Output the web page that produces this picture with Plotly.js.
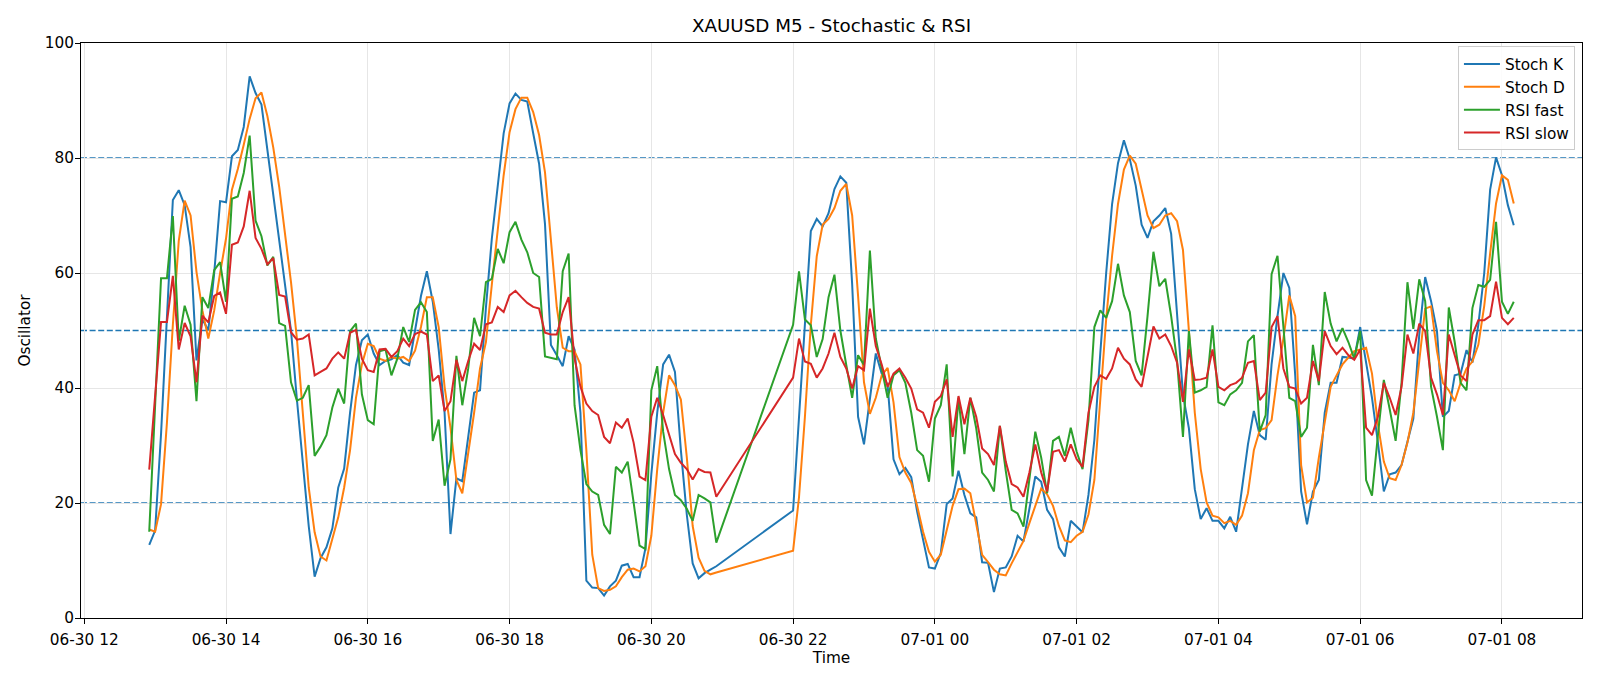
<!DOCTYPE html>
<html>
<head>
<meta charset="utf-8">
<script src="https://cdn.plot.ly/plotly-3.0.1.min.js"></script>
<style>
  html, body { margin: 0; padding: 0; background: #ffffff; }
  #chart { width: 1600px; height: 686px; }
</style>
</head>
<body>
<div id="chart"></div>
<script>
// ---- time axis (M5 bars, market break 21:00-22:00) ----
const times = [
  "2025-06-30 12:55",
  "2025-06-30 13:00","2025-06-30 13:05","2025-06-30 13:10","2025-06-30 13:15","2025-06-30 13:20","2025-06-30 13:25","2025-06-30 13:30","2025-06-30 13:35","2025-06-30 13:40","2025-06-30 13:45","2025-06-30 13:50","2025-06-30 13:55",
  "2025-06-30 14:00","2025-06-30 14:05","2025-06-30 14:10","2025-06-30 14:15","2025-06-30 14:20","2025-06-30 14:25","2025-06-30 14:30","2025-06-30 14:35","2025-06-30 14:40","2025-06-30 14:45","2025-06-30 14:50","2025-06-30 14:55",
  "2025-06-30 15:00","2025-06-30 15:05","2025-06-30 15:10","2025-06-30 15:15","2025-06-30 15:20","2025-06-30 15:25","2025-06-30 15:30","2025-06-30 15:35","2025-06-30 15:40","2025-06-30 15:45","2025-06-30 15:50","2025-06-30 15:55",
  "2025-06-30 16:00","2025-06-30 16:05","2025-06-30 16:10","2025-06-30 16:15","2025-06-30 16:20","2025-06-30 16:25","2025-06-30 16:30","2025-06-30 16:35","2025-06-30 16:40","2025-06-30 16:45","2025-06-30 16:50","2025-06-30 16:55",
  "2025-06-30 17:00","2025-06-30 17:05","2025-06-30 17:10","2025-06-30 17:15","2025-06-30 17:20","2025-06-30 17:25","2025-06-30 17:30","2025-06-30 17:35","2025-06-30 17:40","2025-06-30 17:45","2025-06-30 17:50","2025-06-30 17:55",
  "2025-06-30 18:00","2025-06-30 18:05","2025-06-30 18:10","2025-06-30 18:15","2025-06-30 18:20","2025-06-30 18:25","2025-06-30 18:30","2025-06-30 18:35","2025-06-30 18:40","2025-06-30 18:45","2025-06-30 18:50","2025-06-30 18:55",
  "2025-06-30 19:00","2025-06-30 19:05","2025-06-30 19:10","2025-06-30 19:15","2025-06-30 19:20","2025-06-30 19:25","2025-06-30 19:30","2025-06-30 19:35","2025-06-30 19:40","2025-06-30 19:45","2025-06-30 19:50","2025-06-30 19:55",
  "2025-06-30 20:00","2025-06-30 20:05","2025-06-30 20:10","2025-06-30 20:15","2025-06-30 20:20","2025-06-30 20:25","2025-06-30 20:30","2025-06-30 20:35","2025-06-30 20:40","2025-06-30 20:45","2025-06-30 20:50","2025-06-30 20:55",
  "2025-06-30 22:00","2025-06-30 22:05","2025-06-30 22:10","2025-06-30 22:15","2025-06-30 22:20","2025-06-30 22:25","2025-06-30 22:30","2025-06-30 22:35","2025-06-30 22:40","2025-06-30 22:45","2025-06-30 22:50","2025-06-30 22:55",
  "2025-06-30 23:00","2025-06-30 23:05","2025-06-30 23:10","2025-06-30 23:15","2025-06-30 23:20","2025-06-30 23:25","2025-06-30 23:30","2025-06-30 23:35","2025-06-30 23:40","2025-06-30 23:45","2025-06-30 23:50","2025-06-30 23:55",
  "2025-07-01 00:00","2025-07-01 00:05","2025-07-01 00:10","2025-07-01 00:15","2025-07-01 00:20","2025-07-01 00:25","2025-07-01 00:30","2025-07-01 00:35","2025-07-01 00:40","2025-07-01 00:45","2025-07-01 00:50","2025-07-01 00:55",
  "2025-07-01 01:00","2025-07-01 01:05","2025-07-01 01:10","2025-07-01 01:15","2025-07-01 01:20","2025-07-01 01:25","2025-07-01 01:30","2025-07-01 01:35","2025-07-01 01:40","2025-07-01 01:45","2025-07-01 01:50","2025-07-01 01:55",
  "2025-07-01 02:00","2025-07-01 02:05","2025-07-01 02:10","2025-07-01 02:15","2025-07-01 02:20","2025-07-01 02:25","2025-07-01 02:30","2025-07-01 02:35","2025-07-01 02:40","2025-07-01 02:45","2025-07-01 02:50","2025-07-01 02:55",
  "2025-07-01 03:00","2025-07-01 03:05","2025-07-01 03:10","2025-07-01 03:15","2025-07-01 03:20","2025-07-01 03:25","2025-07-01 03:30","2025-07-01 03:35","2025-07-01 03:40","2025-07-01 03:45","2025-07-01 03:50","2025-07-01 03:55",
  "2025-07-01 04:00","2025-07-01 04:05","2025-07-01 04:10","2025-07-01 04:15","2025-07-01 04:20","2025-07-01 04:25","2025-07-01 04:30","2025-07-01 04:35","2025-07-01 04:40","2025-07-01 04:45","2025-07-01 04:50","2025-07-01 04:55",
  "2025-07-01 05:00","2025-07-01 05:05","2025-07-01 05:10","2025-07-01 05:15","2025-07-01 05:20","2025-07-01 05:25","2025-07-01 05:30","2025-07-01 05:35","2025-07-01 05:40","2025-07-01 05:45","2025-07-01 05:50","2025-07-01 05:55",
  "2025-07-01 06:00","2025-07-01 06:05","2025-07-01 06:10","2025-07-01 06:15","2025-07-01 06:20","2025-07-01 06:25","2025-07-01 06:30","2025-07-01 06:35","2025-07-01 06:40","2025-07-01 06:45","2025-07-01 06:50","2025-07-01 06:55",
  "2025-07-01 07:00","2025-07-01 07:05","2025-07-01 07:10","2025-07-01 07:15","2025-07-01 07:20","2025-07-01 07:25","2025-07-01 07:30","2025-07-01 07:35","2025-07-01 07:40","2025-07-01 07:45","2025-07-01 07:50","2025-07-01 07:55",
  "2025-07-01 08:00","2025-07-01 08:05","2025-07-01 08:10"
];

// ---- series values ----
const stochK = [
  12.7,15.2,32,52,72.7,74.4,71.8,64.5,44.8,52,
  50,60,72.5,72.3,80.3,81.4,85.4,94.2,91.3,89.3,
  81.5,73,66,58,50,38,27,16,7.2,10.4,
  12.3,15.6,22.7,26,35.7,44,48.3,49.3,46,44,
  44.7,45,45.7,44.4,44,50,56,60.3,55,46.7,
  35.7,14.6,24.3,23.8,31.8,39.2,39.6,54,66,75.5,
  84.3,89.5,91.2,90.1,89.8,84.3,79,68.5,47.5,45.7,
  43.8,49,46.7,35.7,6.5,5.3,5.2,3.9,5.5,6.5,
  9.1,9.4,7.1,7.1,12.1,25,35.7,44.1,45.8,42.8,
  29.2,18,9.5,6.9,7.8,8.4,9.0,
  18.7,35,51,67.3,69.4,68.1,70.4,74.6,76.8,75.7,
  58,35,30.2,38,46,42.5,40.5,27.6,25,26.1,
  24.5,18.5,13.5,8.8,8.6,11.3,19.8,20.8,25.6,21.4,
  18.2,17.5,9.7,9.6,4.5,8.6,8.8,10.7,14.3,13.3,
  19,24.6,23.7,18.8,17.2,12.3,10.7,16.9,15.9,14.9,
  21.4,31,46,60,72,79.1,83.1,79.8,75.2,68.4,
  66.1,69,70,71.3,66.8,52,38.9,33,22.4,17.2,
  19.1,16.9,16.9,15.6,17.6,15,22.7,30.2,36,31.8,
  31,44.1,52.5,60,57.4,42.2,22,16.3,22,24,
  35.7,40.9,40.9,45.4,45.3,45.1,50.6,44.7,38.3,30.5,
  22,25,25.3,26.6,30.5,34.7,49.3,59.3,55.1,49.9,
  35,36,42.2,42.5,46.6,44.4,51,60,74.5,80.1,
  77,71.8,68.3
];
const stochD = [
  15.4,15.0,19.8,34,51,65.6,72.6,70,60.2,53.5,
  48.6,53.5,60,66,74.5,78.1,82.3,86.8,90.4,91.4,
  87.3,81.8,75,67,58.4,48.6,35.7,22.7,14.9,10.7,
  10,13.6,17.5,22.7,29.2,38.3,44.1,47.7,47.3,45.1,
  44.7,45.4,45.1,45.4,44.7,46.5,50.6,55.8,55.8,50.6,
  40.2,33.1,24,21.7,28.5,35.7,43.4,48,58,68,
  77,84.5,88.5,90.5,90.5,88,84,77.5,66,54,
  47,46.4,46.4,44.1,29.2,11,5.2,4.7,4.9,5.5,
  7.1,8.4,8.6,8.1,9,14.3,25.9,35.7,42.2,40.5,
  38,28,16,10.5,8.2,7.6,7.9,
  11.7,21,35,51,62.9,68.4,69.4,71.3,74.3,75.5,
  70,56,41,35.5,38.3,42.2,43.5,37.5,28,25.3,
  23.5,19.5,15,11.5,9.8,11,15.5,19.5,22.4,22.5,
  21.7,16.2,11,9.7,8.4,7.6,7.4,9.5,11.5,13.4,
  16.5,19.5,22.5,21.5,19.5,16,13.5,13.2,14.3,15,
  18,24,38,52,63,72,78,80.4,79,74.6,
  70,67.8,68.4,70,70.4,69,64,50,35.7,25.9,
  20.1,17.8,17.5,16.5,16.9,16.2,17.8,21.7,29.2,32.7,
  33,34.4,42.2,48.6,56.1,52.5,26.6,20.1,20.9,27.9,
  34.4,40.2,42.2,44.1,45.3,46.4,46.7,47,42.5,33.7,
  27.2,24.3,24,26.6,30.5,35.7,44.7,53.8,54.2,46.4,
  40.9,39.6,37.7,40.9,43.4,44.6,47.5,54.3,63.4,72.1,
  77,76.2,72.1
];
const rsiFast = [
  15,37,59.1,59.1,69.9,48.2,54.3,51,37.7,55.8,
  53.9,60.5,61.9,55,72.9,73.3,77.4,83.9,69.1,66.4,
  61.3,62.8,51.3,50.8,41,37.8,38.3,40.5,28.2,29.8,
  31.8,36.6,39.9,37.3,49.9,51.2,38.9,34.4,33.7,46.4,
  46.7,42.2,45.1,50.6,48,53.6,54.9,53.2,30.8,34.5,
  23,27.6,45.6,37,43.4,52.2,49,58.4,59,64.2,
  61.7,67.1,68.9,65.8,63.6,60,59.3,45.5,45.2,45,
  60.3,63.4,37,29.2,23.3,22,21.4,16.2,14.6,26.3,
  25.3,27.2,20.1,12.6,12,39.6,43.8,32.4,25.9,21.4,
  20.5,19,16.9,21.4,20.8,20.1,13.1,
  51,60.3,51.9,50.9,45.4,48.5,55.8,59.7,50,44,
  38.3,45.7,44,63.9,48.6,43.4,38.3,42.2,43.1,40.9,
  35.7,29.2,28.2,23.7,34.7,37,44.1,24.6,38.3,28.5,
  38.3,33,25.3,24,22,33.4,25.6,18.8,18.2,15.9,
  24.3,32.4,27.9,21.7,30.8,31.5,28.2,33.1,28.9,25.9,
  34.4,50.6,53.5,52.2,55.1,61.6,56.1,53.2,44.7,42.2,
  52.5,63.7,57.7,59,52.5,44.7,31.5,49.9,39.2,39.6,
  40.2,50.9,37.5,37,38.9,39.6,40.9,48.1,49.2,32.4,
  35.3,59.8,63,50.6,38.3,37.7,31.5,33.1,47.5,40.5,
  56.7,51.2,48.1,50.4,48,45.1,49.9,24,21.3,31.8,
  41.4,36.3,30.8,40.9,58.4,50.3,58.9,55.1,40.2,35,
  29.2,54,48,40.9,39.6,53.9,57.9,57.6,58.8,68.9,
  55,52.9,55
];
const rsiSlow = [
  25.8,39,51.5,51.5,59.5,46.7,51.3,49,41,52.6,
  51.4,56,56.6,52.9,64.9,65.3,68.1,74.3,66.1,64.2,
  61.5,62.6,56.2,55.9,49.7,48.4,48.6,49.3,42.2,42.8,
  43.4,45.1,46.2,45.1,49.6,50.1,45.1,43.1,42.8,46.7,
  46.8,45.4,46.4,48.6,47.3,49.4,49.8,49.3,41.2,42.2,
  36,37.7,44.9,41.2,44.7,47.7,46.6,51.1,51.4,54.1,
  53.2,56.1,56.9,55.8,54.8,54.1,53.8,49.6,49.3,49.3,
  53.2,55.8,45.1,40.2,37.3,36,35.3,31.5,30.4,34,
  33.1,34.7,30.5,24.6,24,35,38.3,35.3,31.8,28.5,
  27,25.9,24.1,25.9,25.4,25.3,21.1,
  41.8,48.6,44.6,44.2,41.8,43.4,46,49.6,45.4,43.4,
  39.9,43.8,43.1,53.8,47.3,44.1,40.2,42.5,43.4,41.8,
  39.9,36.3,35.7,33.1,37.6,38.6,41.5,31.5,38.6,33.7,
  38.3,35,29.5,28.5,26.6,33.4,27.2,23.3,22.7,21.1,
  25.3,30.2,25.3,22,28.9,29.2,27.2,30.2,27.6,26.3,
  35.7,40.2,42.2,41.6,43.4,47,45.1,44.1,41.5,40.2,
  45.4,50.7,48.6,49.3,47.3,44.4,37.6,46.7,41.4,41.5,
  41.8,46.7,40.2,39.6,40.5,40.9,41.8,44.4,44.7,37.9,
  39.2,50.6,52.5,43.4,40.2,39.9,37.3,38.3,44.7,41.2,
  49.9,47.3,45.9,47,45.7,44.9,46.7,33.1,31.8,35,
  40.9,38.3,35.3,40.2,49.3,46,51.2,49.9,41.8,38.9,
  35.3,49.3,45.7,42.2,41.2,49.3,51.8,51.8,52.5,58.5,
  52.2,51.1,52.2
];

const seriesNames = ["Stoch K", "Stoch D", "RSI fast", "RSI slow"];
const seriesColors = ["#1f77b4", "#ff7f0e", "#2ca02c", "#d62728"];
const levels = [80, 50, 20];
const xRange = ["2025-06-30 11:57:15", "2025-07-01 09:07:45"];
const yTicks = [0, 20, 40, 60, 80, 100];

const font = "DejaVu Sans, Liberation Sans, sans-serif";
const baseSize = 15.3;
const allSeries = [stochK, stochD, rsiFast, rsiSlow];

const traces = allSeries.map((vals, k) => ({
  type: "scatter",
  mode: "lines",
  x: times,
  y: vals,
  name: seriesNames[k],
  line: { color: seriesColors[k], width: 2 }
}));

const shapes = levels.map(v => ({
  type: "line", xref: "paper", x0: 0, x1: 1, yref: "y", y0: v, y1: v,
  layer: "between",
  line: { color: "#1f77b4", width: 1.5, dash: "6px,2.6px" }
}));

const axisCommon = {
  showline: true, mirror: true, linecolor: "#000000", linewidth: 1,
  ticks: "outside", ticklen: 5, tickwidth: 1, tickcolor: "#000000",
  showgrid: true, gridcolor: "#e6e6e6", gridwidth: 1,
  zeroline: false,
  tickfont: { family: font, size: baseSize, color: "#000000" }
};

const layout = {
  width: 1600, height: 686,
  paper_bgcolor: "#ffffff", plot_bgcolor: "#ffffff",
  margin: { l: 81, r: 18, t: 43, b: 68, pad: 0 },
  font: { family: font, size: baseSize, color: "#000000" },
  title: {
    text: "XAUUSD M5 - Stochastic & RSI",
    font: { family: font, size: 18.3, color: "#000000" },
    xref: "paper", x: 0.5, xanchor: "center",
    yref: "container", y: 0.962, yanchor: "middle"
  },
  xaxis: Object.assign({}, axisCommon, {
    type: "date", range: xRange,
    tick0: "2025-06-30 00:00", dtick: 7200000,
    tickformat: "%m-%d %H",
    ticklabelstandoff: 3,
    title: { text: "Time", font: { family: font, size: baseSize, color: "#000000" }, standoff: 3 }
  }),
  yaxis: Object.assign({}, axisCommon, {
    range: [0, 100], tickvals: yTicks,
    ticklabelstandoff: -2,
    title: { text: "Oscillator", font: { family: font, size: baseSize, color: "#000000" }, standoff: 10 }
  }),
  shapes: shapes,
  showlegend: true,
  legend: {
    x: 0.9953, xanchor: "right", y: 0.994, yanchor: "top",
    bgcolor: "rgba(255,255,255,0.85)", bordercolor: "#cccccc", borderwidth: 1,
    font: { family: font, size: baseSize, color: "#000000" },
    itemwidth: 36,
    tracegroupgap: 0
  }
};

Plotly.newPlot("chart", traces, layout, { staticPlot: true, displayModeBar: false });
</script>
</body>
</html>
